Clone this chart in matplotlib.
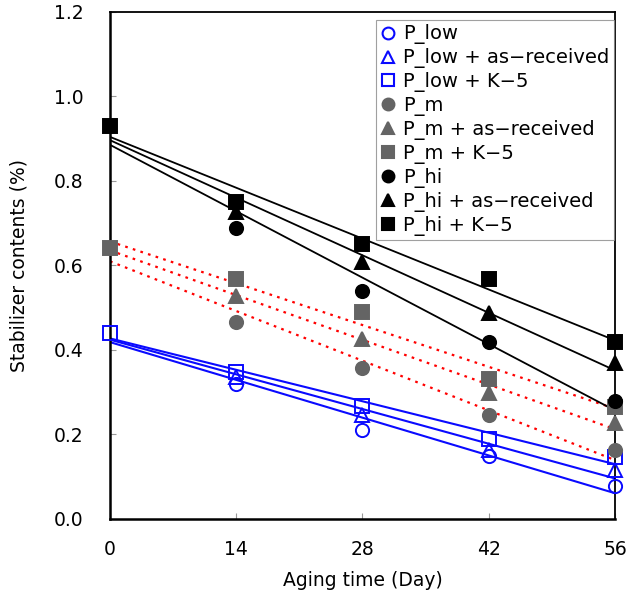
import numpy as np
import matplotlib
matplotlib.use("Agg")
import matplotlib.pyplot as plt
from matplotlib.lines import Line2D

days = [0, 14, 28, 42, 56]

p_low = [0.440, 0.320, 0.211, 0.150, 0.078]
p_low_ar = [0.440, 0.336, 0.246, 0.163, 0.116]
p_low_k5 = [0.440, 0.348, 0.268, 0.190, 0.147]

p_m = [0.641, 0.466, 0.357, 0.246, 0.163]
p_m_ar = [0.641, 0.528, 0.426, 0.298, 0.227]
p_m_k5 = [0.641, 0.568, 0.490, 0.331, 0.265]

p_hi = [0.930, 0.689, 0.539, 0.419, 0.279]
p_hi_ar = [0.930, 0.727, 0.608, 0.487, 0.369]
p_hi_k5 = [0.930, 0.750, 0.651, 0.568, 0.419]

labels = ["P_low", "P_low + as\u2212received", "P_low + K\u22125",
          "P_m", "P_m + as\u2212received", "P_m + K\u22125",
          "P_hi", "P_hi + as\u2212received", "P_hi + K\u22125"]

BLUE = "#0a0aff"
GREY = "#646464"
BLACK = "#000000"

series = [
    (p_low, "o", BLUE, "none", "-", BLUE),
    (p_low_ar, "^", BLUE, "none", "-", BLUE),
    (p_low_k5, "s", BLUE, "none", "-", BLUE),
    (p_m, "o", GREY, GREY, ":", "red"),
    (p_m_ar, "^", GREY, GREY, ":", "red"),
    (p_m_k5, "s", GREY, GREY, ":", "red"),
    (p_hi, "o", BLACK, BLACK, "-", BLACK),
    (p_hi_ar, "^", BLACK, BLACK, "-", BLACK),
    (p_hi_k5, "s", BLACK, BLACK, "-", BLACK),
]

fig = plt.figure(figsize=(6.29, 5.94), dpi=100)
ax = fig.add_axes([0.1749, 0.1263, 0.8028, 0.8535])

x = np.array(days, dtype=float)
xx = np.array([0.0, 56.0])
# regression lines
for vals, m, ec, fc, ls, lc in series:
    k, b = np.polyfit(x, np.array(vals), 1)
    if ls == ":":
        ax.plot(xx, k * xx + b, color=lc, lw=1.6, linestyle=(0, (1.2, 2.4)), zorder=2)
    else:
        ax.plot(xx, k * xx + b, color=lc, lw=1.5 if lc == BLUE else 1.3, zorder=2)

handles = []
for (vals, m, ec, fc, ls, lc), lab in zip(series, labels):
    # the shared day-0 value is shown only once (by the K-5 square)
    every = None if m == "s" else slice(1, None)
    ax.plot(days, vals, linestyle="none", marker=m, markersize=9.5,
            markeredgecolor=ec, markerfacecolor=fc, markeredgewidth=1.4,
            markevery=every, zorder=3, clip_on=False)
    handles.append(Line2D([], [], linestyle="none", marker=m, markersize=8.5,
                          markeredgecolor=ec, markerfacecolor=fc,
                          markeredgewidth=1.5, label=lab))

ax.set_xlim(0, 56)
ax.set_ylim(0, 1.2)
ax.set_xticks([0, 14, 28, 42, 56])
ax.set_yticks([0.0, 0.2, 0.4, 0.6, 0.8, 1.0, 1.2])
ax.set_yticklabels(["0.0", "0.2", "0.4", "0.6", "0.8", "1.0", "1.2"])
ax.tick_params(direction="in", length=4, color="#999999", width=0.8,
               labelsize=13.5, pad=19)
ax.tick_params(axis="x", pad=15)
for s in ["left", "bottom"]:
    ax.spines[s].set_linewidth(1.8)
for s in ["top", "right"]:
    ax.spines[s].set_linewidth(1.3)

ax.set_xlabel("Aging time (Day)", fontsize=13.5, labelpad=9)
ax.set_ylabel("Stabilizer contents (%)", fontsize=13.5, labelpad=18)

leg = ax.legend(handles=handles, loc="upper right", bbox_to_anchor=(0.998, 0.985),
                borderaxespad=0, fontsize=14,
                frameon=True, fancybox=False, edgecolor="#888888",
                handlelength=0.8, handletextpad=0.35, labelspacing=0.2,
                borderpad=0.25)
leg.get_frame().set_linewidth(0.8)

fig.savefig("out.png", dpi=100)
